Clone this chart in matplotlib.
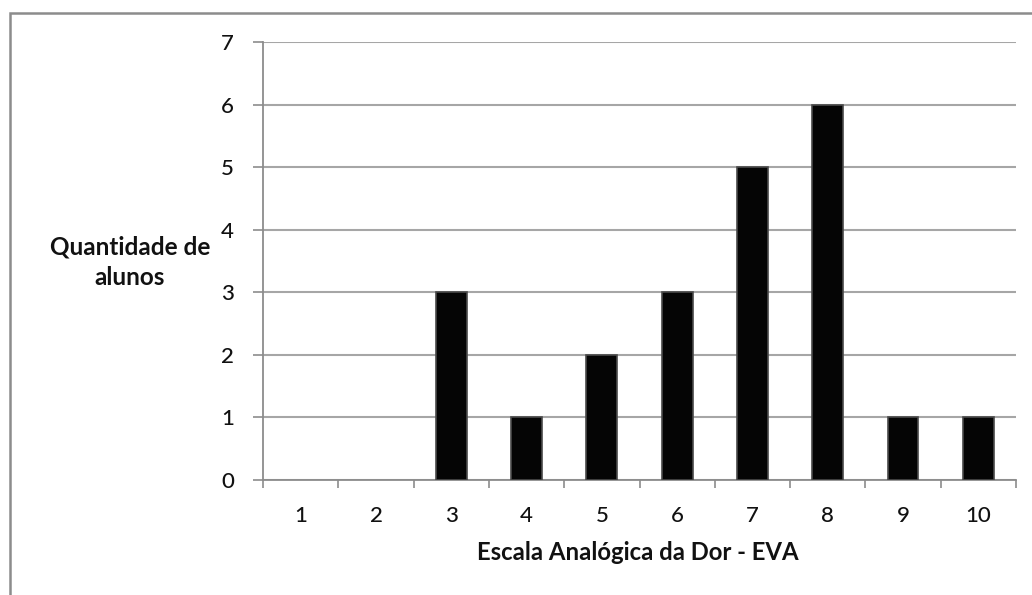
import matplotlib
matplotlib.use("Agg")
import matplotlib.pyplot as plt
from matplotlib.patches import Rectangle

categories = ["1", "2", "3", "4", "5", "6", "7", "8", "9", "10"]
values = [0, 0, 3, 1, 2, 3, 5, 6, 1, 1]
y_ticks = [0, 1, 2, 3, 4, 5, 6, 7]

plt.rcParams['font.family'] = ['Lato', 'DejaVu Sans']

fig = plt.figure(figsize=(10.32, 5.95), dpi=100)
ax = fig.add_axes([263/1032, 1-480/595, (1016-263)/1032, (480-42)/595])

x = list(range(len(categories)))
edges = ['#4a4a4a' if v > 0 else 'none' for v in values]
ax.bar(x, values, width=0.41, color='#050505', edgecolor=edges, linewidth=1.2, zorder=3)

ax.set_xlim(-0.5, len(categories)-0.5)
ax.set_ylim(0, 7)
ax.set_yticks(y_ticks)
ax.set_xticks(x)
ax.set_xticklabels(categories)
ax.set_xticks([i + 0.5 for i in range(-1, len(categories))], minor=True)
ax.tick_params(axis='x', which='major', length=0, pad=19, labelsize=16, labelcolor='#111111')
ax.tick_params(axis='x', which='minor', length=6, width=1.2, color='#8c8c8c', direction='out')
ax.tick_params(axis='y', length=7, width=1.2, color='#8c8c8c', pad=14, labelsize=16, labelcolor='#111111')
for lbl in ax.get_xticklabels() + ax.get_yticklabels():
    lbl.set_fontweight('medium')

ax.grid(axis='y', color='#a6a6a6', linewidth=1.5, zorder=0)
for s in ['top', 'right']:
    ax.spines[s].set_visible(False)
for s in ['left', 'bottom']:
    ax.spines[s].set_color('#8c8c8c')
    ax.spines[s].set_linewidth(1.3)

fig.text(130/1032, 1-262/595, "Quantidade de\nalunos", ha='center', va='center',
         fontsize=17.5, fontweight='bold', linespacing=1.4, color='#111111')
fig.text(638/1032, 1-553/595, "Escala Analógica da Dor - EVA", ha='center', va='center',
         fontsize=17.2, fontweight='bold', color='#111111')

fig.patches.append(Rectangle((10/1032, -0.05), 1.1, 1-13/595+0.05, transform=fig.transFigure,
                             fill=False, edgecolor='#8c8c8c', linewidth=1.8))

fig.savefig("out.png", dpi=100)
